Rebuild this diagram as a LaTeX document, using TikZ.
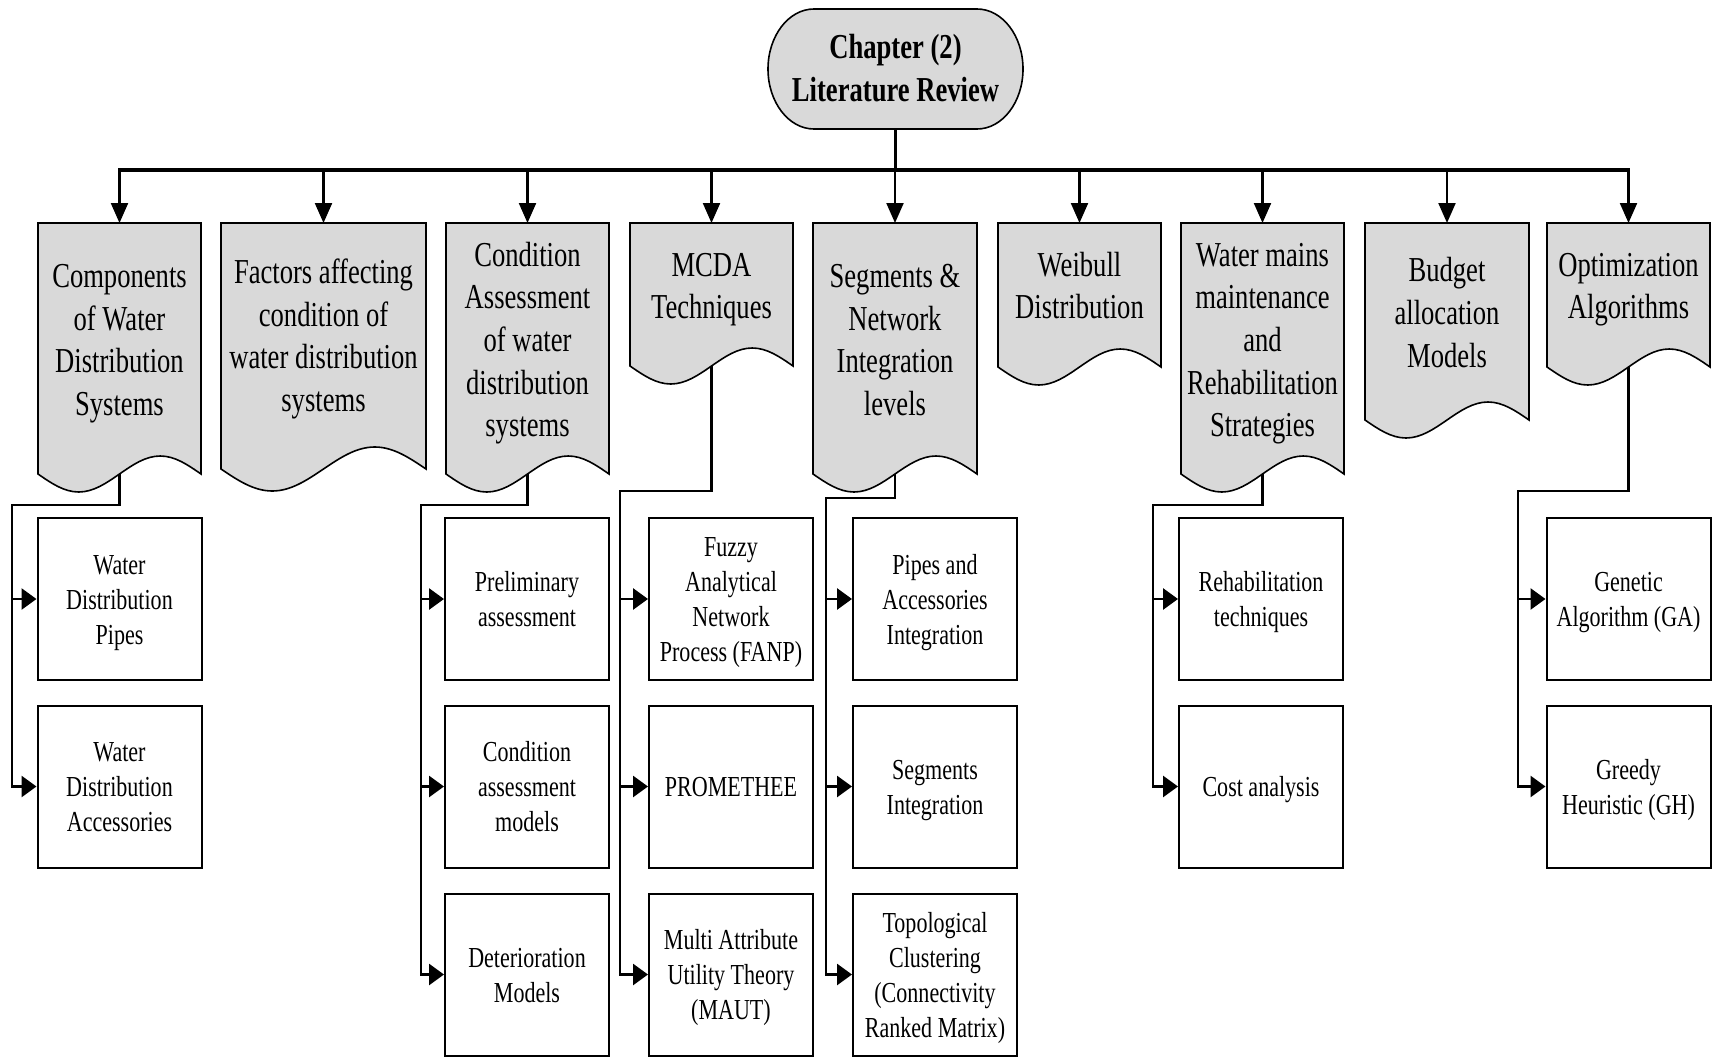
\documentclass[tikz,border=0pt]{standalone}
\usepackage{fontspec}
\setmainfont{Liberation Serif}[FakeStretch=0.76]
\usetikzlibrary{arrows.meta}

\definecolor{docgray}{HTML}{D9D9D9}

\tikzset{
  conn/.style={draw=black, line width=2.8pt},
  drop/.style={draw=black, line width=2.2pt},
  bus/.style={draw=black, line width=3.2pt, line cap=rect},
  downtip/.style={-{Triangle[length=20pt,width=17pt]}},
  righttip/.style={-{Triangle[length=15pt,width=21pt]}},
  docfill/.style={fill=docgray, draw=black, line width=1.6pt},
  graytxt/.style={align=center, inner sep=0pt, yshift=-3pt,
                  font=\fontsize{35}{42.7}\selectfont},
  titletxt/.style={align=center, inner sep=0pt, minimum width=255pt, minimum height=120pt,
                   font=\bfseries\fontsize{35}{42.7}\selectfont},
  subbox/.style={draw=black, line width=2pt, fill=white, minimum width=164pt,
                 minimum height=162pt, inner sep=0pt, align=center,
                 font=\fontsize{29}{35}\selectfont},
  subtxt/.style={align=center, inner sep=0pt, yshift=-3pt,
                 font=\fontsize{29}{35}\selectfont},
}

% document shape: flat top, sine-wave bottom
% #1 name, #2 left, #3 right, #4 top, #5 wave base, #6 wave amplitude
\newcommand\docbox[6]{%
  \path[docfill] (#2,#4) -- (#3,#4) -- (#3,#5)
     sin ({#3-(#3-#2)/4},{#5-#6}) cos ({(#2+#3)/2},#5)
     sin ({#2+(#3-#2)/4},{#5+#6}) cos (#2,#5) -- cycle;
  \coordinate (#1-top) at ({(#2+#3)/2},#4);
  \coordinate (#1-bot) at ({(#2+#3)/2},#5);
}

% white sub-topic box with its text set slightly low
% #1 name, #2 position, #3 text
\newcommand\subnode[3]{%
  \node[subbox] (#1) at #2 {};
  \node[subtxt] (#1-txt) at (#1.center) {\strut #3\strut};
}

\begin{document}
\begin{tikzpicture}[x=1pt,y=-1pt]
\useasboundingbox (0,0) rectangle (1717,1057);

% ---------- title terminator ----------
\path[docfill] (814,9) -- (977,9)
   .. controls (1002.4,9) and (1023,35.9) .. (1023,69)
   .. controls (1023,102.1) and (1002.4,129) .. (977,129)
   -- (814,129)
   .. controls (788.6,129) and (768,102.1) .. (768,69)
   .. controls (768,35.9) and (788.6,9) .. (814,9) -- cycle;
\node[titletxt] (title) at (895.5,69) {};
\node[align=center, inner sep=0pt, yshift=-2.5pt,
      font=\bfseries\fontsize{35}{42.7}\selectfont] (title-txt) at (title.center)
      {\strut Chapter (2)\\Literature Review\strut};

% ---------- topic shapes ----------
\docbox{g1}{38}{201}{223}{474}{18}
\docbox{g2}{221}{426}{223}{469}{22}
\docbox{g3}{446}{609}{223}{474}{18}
\docbox{g4}{630}{793}{223}{366}{18}
\docbox{g5}{813}{977}{223}{474}{18}
\docbox{g6}{998}{1161}{223}{367}{18}
\docbox{g7}{1181}{1344}{223}{474}{18}
\docbox{g8}{1365}{1529}{223}{420}{18}
\docbox{g9}{1547}{1710}{223}{367}{18}

\node[graytxt] (g1t) at (119.5,340) {\strut Components\\of Water\\Distribution\\Systems\strut};
\node[graytxt] (g2t) at (323.5,336) {\strut Factors affecting\\condition of\\water distribution\\systems\strut};
\node[graytxt] (g3t) at (527.5,340) {\strut Condition\\Assessment\\of water\\distribution\\systems\strut};
\node[graytxt] (g4t) at (711.5,286) {\strut MCDA\\Techniques\strut};
\node[graytxt] (g5t) at (895,340) {\strut Segments \&\\Network\\Integration\\levels\strut};
\node[graytxt] (g6t) at (1079.5,286) {\strut Weibull\\Distribution\strut};
\node[graytxt] (g7t) at (1262.5,340) {\strut Water mains\\maintenance\\and\\Rehabilitation\\Strategies\strut};
\node[graytxt] (g8t) at (1447,313) {\strut Budget\\allocation\\Models\strut};
\node[graytxt] (g9t) at (1628.5,286) {\strut Optimization\\Algorithms\strut};

% ---------- sub-topic boxes ----------
\subnode{s11}{(119.5,599)}{Water\\Distribution\\Pipes}
\subnode{s12}{(119.5,786.5)}{Water\\Distribution\\Accessories}

\subnode{s31}{(527,599)}{Preliminary\\assessment}
\subnode{s32}{(527,786.5)}{Condition\\assessment\\models}
\subnode{s33}{(527,974.5)}{Deterioration\\Models}

\subnode{s41}{(731,599)}{Fuzzy\\Analytical\\Network\\Process (FANP)}
\subnode{s42}{(731,786.5)}{PROMETHEE}
\subnode{s43}{(731,974.5)}{Multi Attribute\\Utility Theory\\(MAUT)}

\subnode{s51}{(935,599)}{Pipes and\\Accessories\\Integration}
\subnode{s52}{(935,786.5)}{Segments\\Integration}
\subnode{s53}{(935,974.5)}{Topological\\Clustering\\(Connectivity\\Ranked Matrix)}

\subnode{s71}{(1261,599)}{Rehabilitation\\techniques}
\subnode{s72}{(1261,786.5)}{Cost analysis}

\subnode{s91}{(1628.5,599)}{Genetic\\Algorithm (GA)}
\subnode{s92}{(1628.5,786.5)}{Greedy\\Heuristic (GH)}

% ---------- main distribution bus ----------
\coordinate (busy) at (0,170);
\draw[bus] (g1-top |- busy) -- (g9-top |- busy);
\draw[conn] (title.south) -- (title.south |- busy);
\foreach \g in {g1,g2,g3,g4,g5,g6,g7,g8,g9}
  \draw[drop,downtip] (\g-top |- busy) -- (\g-top);

% ---------- branch connectors ----------
\coordinate (j1) at (12,505);
\coordinate (j3) at (421,505);
\coordinate (j4) at (620,491);
\coordinate (j5) at (826,498);
\coordinate (j7) at (1153,505);
\coordinate (j9) at (1518,491);

\draw[conn,righttip] (g1-bot) |- (j1) |- (s12.west);
\draw[conn,righttip] (j1) |- (s11.west);

\draw[conn,righttip] (g3-bot) |- (j3) |- (s33.west);
\draw[conn,righttip] (j3) |- (s31.west);
\draw[conn,righttip] (j3) |- (s32.west);

\draw[conn,righttip] (g4-bot) |- (j4) |- (s43.west);
\draw[conn,righttip] (j4) |- (s41.west);
\draw[conn,righttip] (j4) |- (s42.west);

\draw[conn,righttip] (g5-bot) |- (j5) |- (s53.west);
\draw[conn,righttip] (j5) |- (s51.west);
\draw[conn,righttip] (j5) |- (s52.west);

\draw[conn,righttip] (g7-bot) |- (j7) |- (s72.west);
\draw[conn,righttip] (j7) |- (s71.west);

\draw[conn,righttip] (g9-bot) |- (j9) |- (s92.west);
\draw[conn,righttip] (j9) |- (s91.west);
\end{tikzpicture}
\end{document}
